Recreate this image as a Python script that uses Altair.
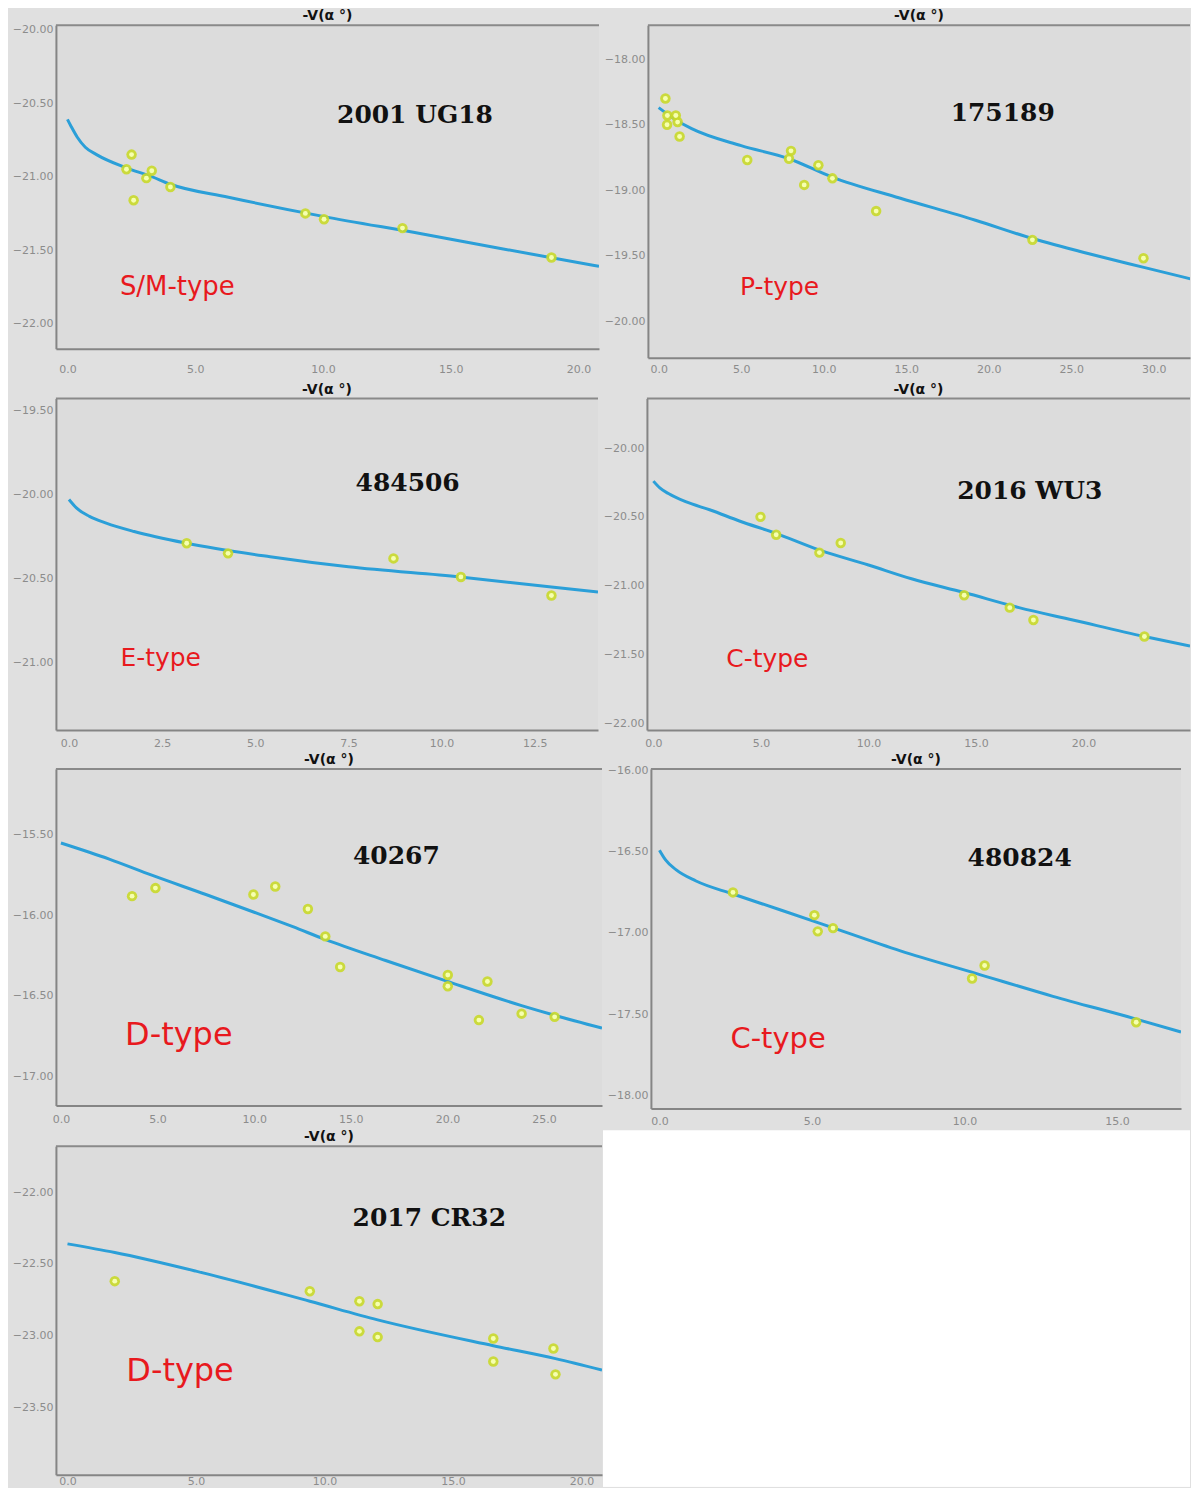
import altair as alt
import pandas as pd

# ---------------- data ----------------
# 2001 UG18
P1_OBS_X = [2.31, 2.51, 2.59, 3.09, 3.30, 4.03, 9.31, 10.04, 13.11, 18.94]
P1_OBS_Y = [-20.95, -20.85, -21.16, -21.01, -20.96, -21.07, -21.25, -21.29, -21.35, -21.55]
P1_FIT_X = [0.0, 0.15, 0.38, 0.7, 1.14, 2.3, 3.3, 4.0, 6.3, 10.0, 13.9, 17.0, 20.8]
P1_FIT_Y = [-20.61, -20.66, -20.73, -20.80, -20.85, -20.94, -21.00, -21.05, -21.14, -21.27, -21.39, -21.49, -21.61]

# 175189
P2_OBS_X = [0.41, 0.53, 0.51, 1.04, 1.15, 1.27, 5.37, 8.02, 7.90, 9.68, 8.82, 10.53, 13.18, 22.65, 29.38]
P2_OBS_Y = [-18.30, -18.43, -18.50, -18.43, -18.48, -18.59, -18.77, -18.70, -18.76, -18.81, -18.96, -18.91, -19.16, -19.38, -19.52]
P2_FIT_X = [0.0, 1.0, 2.0, 5.0, 7.9, 10.5, 14.6, 19.2, 22.65, 26.2, 29.4, 32.3]
P2_FIT_Y = [-18.37, -18.46, -18.53, -18.66, -18.76, -18.90, -19.06, -19.23, -19.37, -19.49, -19.59, -19.68]

# 484506
P3_OBS_X = [3.16, 4.27, 8.71, 10.52, 12.95]
P3_OBS_Y = [-20.29, -20.35, -20.38, -20.49, -20.60]
P3_FIT_X = [0.0, 0.2, 0.55, 1.0, 1.75, 3.16, 5.4, 7.5, 10.5, 12.95, 14.2]
P3_FIT_Y = [-20.03, -20.08, -20.13, -20.17, -20.22, -20.29, -20.37, -20.43, -20.49, -20.55, -20.58]

# 2016 WU3
P4_OBS_X = [4.98, 5.71, 7.72, 8.71, 14.45, 16.57, 17.67, 22.83]
P4_OBS_Y = [-20.50, -20.63, -20.76, -20.69, -21.07, -21.16, -21.25, -21.37]
P4_FIT_X = [0.0, 0.3, 0.7, 1.5, 2.65, 4.0, 5.7, 7.7, 10.0, 12.0, 14.45, 17.0, 19.5, 22.83, 24.95]
P4_FIT_Y = [-20.24, -20.29, -20.33, -20.39, -20.45, -20.53, -20.62, -20.74, -20.85, -20.95, -21.05, -21.16, -21.25, -21.37, -21.44]

# 40267
P5_OBS_X = [3.68, 4.89, 9.96, 11.09, 12.78, 13.68, 14.45, 20.02, 20.02, 22.07, 21.63, 23.84, 25.55]
P5_OBS_Y = [-15.88, -15.83, -15.87, -15.82, -15.96, -16.13, -16.32, -16.37, -16.44, -16.41, -16.65, -16.61, -16.63]
P5_FIT_X = [0.0, 2.5, 4.7, 7.5, 10.0, 12.0, 13.7, 16.8, 20.0, 23.84, 25.55, 28.0]
P5_FIT_Y = [-15.55, -15.65, -15.75, -15.87, -15.98, -16.07, -16.15, -16.28, -16.41, -16.56, -16.62, -16.70]

# 480824
P6_OBS_X = [2.41, 5.08, 5.19, 5.69, 10.25, 10.66, 15.63]
P6_OBS_Y = [-16.75, -16.89, -16.99, -16.97, -17.28, -17.20, -17.55]
P6_FIT_X = [0.0, 0.2, 0.54, 1.2, 2.41, 4.0, 5.41, 7.9, 10.4, 12.9, 15.63, 17.1]
P6_FIT_Y = [-16.49, -16.55, -16.61, -16.68, -16.76, -16.86, -16.95, -17.11, -17.25, -17.39, -17.53, -17.61]

# 2017 CR32
P7_OBS_X = [1.84, 9.43, 11.36, 12.07, 11.36, 12.07, 16.57, 16.57, 18.91, 18.99]
P7_OBS_Y = [-22.62, -22.69, -22.76, -22.78, -22.97, -23.01, -23.02, -23.18, -23.09, -23.27]
P7_FIT_X = [0.0, 1.84, 5.0, 9.43, 12.07, 16.57, 18.99, 20.8]
P7_FIT_Y = [-22.36, -22.42, -22.55, -22.76, -22.89, -23.07, -23.16, -23.24]

NAMES = ["2001 UG18", "175189", "484506", "2016 WU3", "40267", "480824", "2017 CR32"]
TYPES = ["S/M-type", "P-type", "E-type", "C-type", "D-type", "C-type", "D-type"]
PANEL_TITLE = "-V(α °)"

X_TICKS = [
    [0, 5, 10, 15, 20],
    [0, 5, 10, 15, 20, 25, 30],
    [0, 2.5, 5, 7.5, 10, 12.5],
    [0, 5, 10, 15, 20],
    [0, 5, 10, 15, 20, 25],
    [0, 5, 10, 15],
    [0, 5, 10, 15, 20],
]
Y_TICKS = [
    [-20.0, -20.5, -21.0, -21.5, -22.0],
    [-18.0, -18.5, -19.0, -19.5, -20.0],
    [-19.5, -20.0, -20.5, -21.0],
    [-20.0, -20.5, -21.0, -21.5, -22.0],
    [-15.5, -16.0, -16.5, -17.0],
    [-16.0, -16.5, -17.0, -17.5, -18.0],
    [-22.0, -22.5, -23.0, -23.5],
]

# ---------------- layout / style per panel ----------------
LAYOUT = [
    dict(xdom=[-0.45, 20.8], ydom=[-22.17, -19.97], w=544, h=324, lpad=15,
         npos=(13.6, -20.58), tpos=(4.3, -21.75), tsize=26),
    dict(xdom=[-0.65, 32.2], ydom=[-20.28, -17.74], w=543, h=333, lpad=6,
         npos=(20.85, -18.41), tpos=(7.33, -19.74), tsize=25),
    dict(xdom=[-0.35, 14.2], ydom=[-21.40, -19.43], w=543, h=332, lpad=7,
         npos=(9.09, -19.93), tpos=(2.46, -20.97), tsize=25),
    dict(xdom=[-0.3, 24.95], ydom=[-22.05, -19.64], w=544, h=332, lpad=7,
         npos=(17.5, -20.31), tpos=(5.3, -21.53), tsize=25),
    dict(xdom=[-0.26, 28.0], ydom=[-17.18, -15.09], w=547, h=337, lpad=8,
         npos=(17.36, -15.63), tpos=(6.1, -16.74), tsize=32),
    dict(xdom=[-0.28, 17.1], ydom=[-18.08, -15.99], w=531, h=340, lpad=7,
         npos=(11.81, -16.54), tpos=(3.89, -17.65), tsize=29),
    dict(xdom=[-0.45, 20.8], ydom=[-23.97, -21.68], w=547, h=329, lpad=1,
         npos=(14.08, -22.18), tpos=(4.38, -23.25), tsize=32),
]
Y_EXTENT = 48

OBS = [(P1_OBS_X, P1_OBS_Y), (P2_OBS_X, P2_OBS_Y), (P3_OBS_X, P3_OBS_Y), (P4_OBS_X, P4_OBS_Y),
       (P5_OBS_X, P5_OBS_Y), (P6_OBS_X, P6_OBS_Y), (P7_OBS_X, P7_OBS_Y)]
FITS = [(P1_FIT_X, P1_FIT_Y), (P2_FIT_X, P2_FIT_Y), (P3_FIT_X, P3_FIT_Y), (P4_FIT_X, P4_FIT_Y),
        (P5_FIT_X, P5_FIT_Y), (P6_FIT_X, P6_FIT_Y), (P7_FIT_X, P7_FIT_Y)]

AXIS_GRAY = "#858585"
LABEL_GRAY = "#8c8c8c"
ONE = pd.DataFrame({"k": [0]})


def make_panel(i):
    lay = LAYOUT[i]
    xs = alt.Scale(domain=lay["xdom"], nice=False, zero=False)
    ys = alt.Scale(domain=lay["ydom"], nice=False, zero=False)
    xaxis = alt.Axis(values=X_TICKS[i], format=".1f", title=None, ticks=False, tickSize=0,
                     labelPadding=lay["lpad"], grid=False, domainColor=AXIS_GRAY, domainWidth=2,
                     labelColor=LABEL_GRAY, labelFontSize=11, labelFont="DejaVu Sans",
                     labelFlush=False, labelOverlap=False)
    yaxis = alt.Axis(values=Y_TICKS[i], format=".2f", title=None, ticks=False, tickSize=0,
                     labelPadding=3, grid=False, domainColor=AXIS_GRAY, domainWidth=2,
                     labelColor=LABEL_GRAY, labelFontSize=11, labelFont="DejaVu Sans",
                     minExtent=Y_EXTENT, maxExtent=Y_EXTENT, labelFlush=False, labelOverlap=False)

    def enc():
        return dict(x=alt.X("alpha:Q", scale=xs, axis=xaxis),
                    y=alt.Y("mag:Q", scale=ys, axis=yaxis))

    obs = pd.DataFrame({"alpha": OBS[i][0], "mag": OBS[i][1]})
    fit = pd.DataFrame({"alpha": FITS[i][0], "mag": FITS[i][1]})
    name_df = pd.DataFrame({"alpha": [lay["npos"][0]], "mag": [lay["npos"][1]], "label": [NAMES[i]]})
    type_df = pd.DataFrame({"alpha": [lay["tpos"][0]], "mag": [lay["tpos"][1]], "label": [TYPES[i]]})

    line = alt.Chart(fit).mark_line(color="#2b9fd8", strokeWidth=3, interpolate="monotone",
                                    clip=True).encode(**enc())
    top = alt.Chart(ONE).mark_rule(color="#8a8a8a", strokeWidth=2).encode(y=alt.value(0))
    head = alt.Chart(ONE).mark_text(text=PANEL_TITLE, font="DejaVu Sans", fontSize=14,
                                    fontWeight="bold", color="#111111", align="center",
                                    baseline="middle").encode(
        x=alt.value(lay["w"] / 2), y=alt.value(-9))
    halo = alt.Chart(obs).mark_circle(size=110, color="#c9d92a", opacity=0.9).encode(**enc())
    core = alt.Chart(obs).mark_circle(size=24, color="#f6ffb0", opacity=1).encode(**enc())
    name = alt.Chart(name_df).mark_text(font="DejaVu Serif", fontWeight="bold", fontSize=25,
                                        color="#111111").encode(text="label:N", **enc())
    kind = alt.Chart(type_df).mark_text(font="DejaVu Sans", fontSize=lay["tsize"],
                                        color="#e8191e").encode(text="label:N", **enc())

    return alt.layer(line, top, head, halo, core, name, kind).properties(
        width=lay["w"], height=lay["h"])


panels = [make_panel(i) for i in range(7)]

BLANK_W = 588
BLANK_H = LAYOUT[6]["h"] + 12
blank = alt.Chart(ONE).mark_rect(color="white").encode(
    x=alt.value(0), x2=alt.value(BLANK_W), y=alt.value(-16), y2=alt.value(BLANK_H)
).properties(width=BLANK_W, height=BLANK_H, view=alt.ViewBackground(fill="white", stroke=None))

row1 = alt.hconcat(panels[0], panels[1], spacing=0)
row2 = alt.hconcat(panels[2], panels[3], spacing=0)
row3 = alt.hconcat(panels[4], panels[5], spacing=0)
row4 = alt.hconcat(panels[6], blank, spacing=0)

chart = alt.vconcat(
    row1,
    alt.vconcat(row2, alt.vconcat(row3, row4, spacing=4), spacing=5),
    spacing=8,
).properties(
    padding=0,
    background="#e0e0e0",
).configure_view(stroke=None, fill="#dcdcdc")

chart.save("out.html", embed_options={"renderer": "svg", "actions": False})
